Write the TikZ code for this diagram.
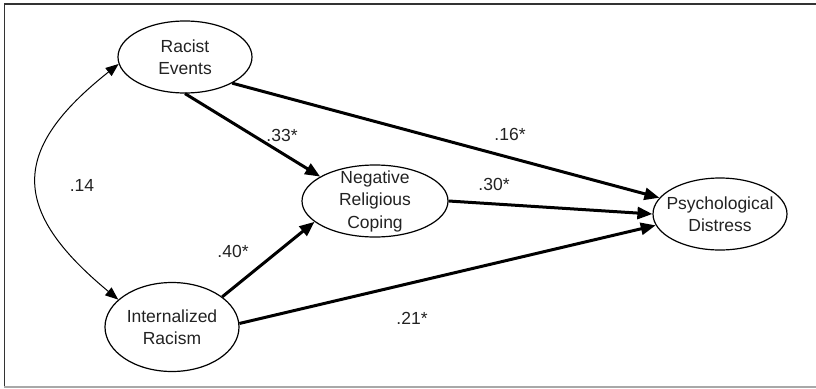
\documentclass[tikz,border=0pt]{standalone}
\usepackage{fontspec}
\setmainfont{Liberation Sans}
\usetikzlibrary{shapes.geometric,arrows.meta}
\definecolor{txt}{HTML}{222222}
\definecolor{framedark}{HTML}{333333}
\definecolor{framegray}{HTML}{A8A8A8}
\tikzset{
  var/.style={ellipse, draw=black, line width=1.2pt, inner xsep=-10pt, inner ysep=-10pt,
    minimum width=134pt, minimum height=72pt, align=center, text=txt,
    font=\fontsize{17.5}{22.5}\selectfont},
  coef/.style={text=txt, inner sep=0pt, font=\fontsize{17.5}{21}\selectfont},
  path/.style={line width=3pt, black, -{Triangle[length=15pt,width=12pt]}},
  covar/.style={line width=1pt, black, {Triangle[length=13pt,width=10pt]}-{Triangle[length=13pt,width=10pt]}}
}
\begin{document}
\begin{tikzpicture}[x=1pt,y=-1pt]
\useasboundingbox (0,0) rectangle (816,388);
% frame
\draw[framedark, line width=1.8pt] (4,4) -- (816,4);
\draw[framedark, line width=1.5pt] (4.5,4) -- (4.5,387);
\draw[framegray, line width=1.5pt] (4,387) -- (816,387);
% variables
\node[var] (re) at (185,57) {Racist\\Events};
\node[var, minimum height=89pt] (ir) at (172,327) {Internalized\\Racism};
\node[var, minimum width=146pt] (nrc) at (375,201) {Negative\\Religious\\Coping};
\node[var] (pd) at (720,214) {Psychological\\Distress};
% paths
\draw[path] (re.south) -- (nrc.156);
\draw[path] (re.-29) -- (pd.165);
\draw[path] (nrc.east) -- (pd.west);
\draw[path] (ir.31) -- (nrc.199);
\draw[path] (ir.3) -- (pd.190);
% covariance
\draw[covar] (ir.153) .. controls (10,210) and (10,150) .. (re.186);
% coefficients
\node[coef] (c14) at (82,185) {.14};
\node[coef] (c33) at (282,135) {.33*};
\node[coef] (c40) at (233,251) {.40*};
\node[coef] (c16) at (510,134) {.16*};
\node[coef] (c30) at (494,184) {.30*};
\node[coef] (c21) at (412,318) {.21*};
\end{tikzpicture}
\end{document}
